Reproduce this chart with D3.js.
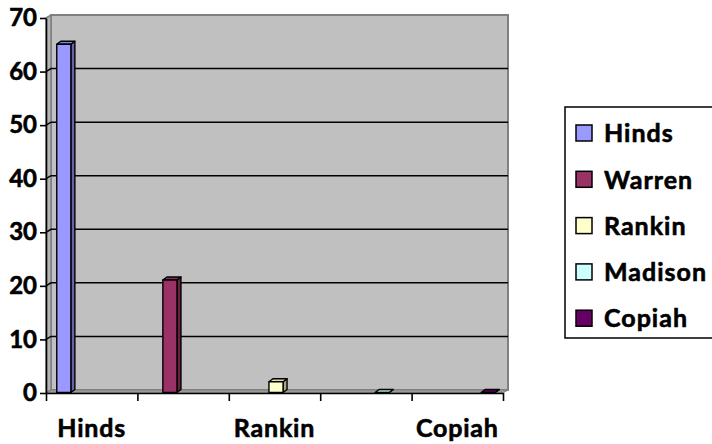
<!DOCTYPE html>
<html>
<head>
<meta charset="utf-8">
<script src="https://cdn.jsdelivr.net/npm/d3@7"></script>
<style>
  body { margin: 0; background: #fff; }
  text { font-family: Lato, "Open Sans", sans-serif; font-weight: bold; fill: #000;
         stroke: #000; stroke-width: 0.6px; }
</style>
</head>
<body>
<div id="chart"></div>
<script>
const width = 712;
const height = 444;

// each county is its own series and sits in its own category
const categories = ["Hinds", "Warren", "Rankin", "Madison", "Copiah"];
const series = ["Hinds", "Warren", "Rankin", "Madison", "Copiah"];
const values = [65, 21, 2, 0, 0];
const colors = ["#9999ff", "#993366", "#ffffcc", "#ccffff", "#660066"];
const yTicks = [0, 10, 20, 30, 40, 50, 60, 70];
const xLabels = ["Hinds", "Rankin", "Copiah"];

// 3d look: wall depth and bar depth
const dx = 5, dy = -3;
const bdx = 4, bdy = -3;

const plotLeft = 46, plotRight = 503, plotBottom = 393, plotTop = 18;

const y = d3.scaleLinear().domain([0, 70]).range([plotBottom, plotTop]);
const x = d3.scaleBand().domain(categories).range([plotLeft, plotRight]);
const xi = d3.scaleBand().domain(series).range([0, x.bandwidth()])
  .paddingOuter(0.63).paddingInner(0.04);
const xb = d3.scaleLinear().domain([0, categories.length]).range([plotLeft, plotRight]);

const svg = d3.select("#chart").append("svg")
  .attr("width", width).attr("height", height);

// back wall, side wall, floor
svg.append("rect")
  .attr("x", plotLeft + dx).attr("y", plotTop + dy)
  .attr("width", plotRight - plotLeft).attr("height", plotBottom - plotTop)
  .style("fill", "#c0c0c0").style("stroke", "#808080").style("stroke-width", 2);

svg.append("polygon")
  .attr("points", [[plotLeft, plotTop], [plotLeft + dx, plotTop + dy], [plotLeft + dx, plotBottom + dy], [plotLeft, plotBottom]].join(" "))
  .style("fill", "#b4b4b4").style("stroke", "#808080").style("stroke-width", 1.5);

svg.append("polygon")
  .attr("points", [[plotLeft, plotBottom], [plotLeft + dx, plotBottom + dy], [plotRight + dx, plotBottom + dy], [plotRight, plotBottom]].join(" "))
  .style("fill", "#9a9a9a").style("stroke", "#808080").style("stroke-width", 1);

// gridlines on wall
const grid = svg.append("g");
yTicks.filter(d => d > 0 && d < 70).forEach(v => {
  grid.append("polyline")
    .attr("points", [[plotLeft, y(v)], [plotLeft + dx, y(v) + dy], [plotRight + dx, y(v) + dy]].join(" "))
    .style("fill", "none").style("stroke", "#000").style("stroke-width", 1.5);
});

// bars
const bars = svg.append("g");
values.forEach((v, i) => {
  const c = d3.color(colors[i]);
  const fx = x(categories[i]) + xi(series[i]) + 1.5;
  const w = xi.bandwidth();
  const fb = y(0) - 0.5;
  const ft = y(v) - 0.5;
  const g = bars.append("g").style("stroke", "#000").style("stroke-width", 1.4)
    .style("stroke-linejoin", "round");
  g.append("polygon")
    .attr("points", [[fx + w, ft], [fx + w + bdx, ft + bdy], [fx + w + bdx, fb + bdy], [fx + w, fb]].join(" "))
    .style("fill", c.darker(1.2));
  g.append("polygon")
    .attr("points", [[fx, ft], [fx + bdx, ft + bdy], [fx + w + bdx, ft + bdy], [fx + w, ft]].join(" "))
    .style("fill", c.darker(0.4));
  if (v > 0) {
    g.append("rect")
      .attr("x", fx).attr("y", ft).attr("width", w).attr("height", fb - ft)
      .style("fill", c);
  }
});

// axes
const yAxis = svg.append("g")
  .attr("transform", `translate(${plotLeft},0)`)
  .call(d3.axisLeft(y).tickValues(yTicks).tickSize(6).tickSizeOuter(0).tickPadding(3));
yAxis.selectAll("text").style("font-size", "24px");

const xAxis = svg.append("g")
  .attr("transform", `translate(0,${plotBottom})`)
  .call(d3.axisBottom(xb).tickValues(d3.range(categories.length + 1))
    .tickFormat("").tickSize(8).tickSizeOuter(0));

svg.selectAll(".domain, .tick line").style("stroke", "#000").style("stroke-width", 1.6);

svg.append("g").selectAll("text")
  .data(xLabels)
  .enter()
  .append("text")
  .attr("x", d => x(d) + x.bandwidth() / 2)
  .attr("y", 437)
  .attr("text-anchor", "middle")
  .style("font-size", "25px")
  .style("letter-spacing", "0.8px")
  .text(d => d);

// legend
const legend = svg.append("g");
legend.append("rect")
  .attr("x", 565).attr("y", 107).attr("width", 160).attr("height", 231)
  .style("fill", "#fff").style("stroke", "#000").style("stroke-width", 1.5);

const item = legend.selectAll("g.item")
  .data(series)
  .enter()
  .append("g")
  .attr("transform", (d, i) => `translate(576,${133 + i * 46.3})`);

item.append("rect")
  .attr("x", 0).attr("y", -8).attr("width", 16).attr("height", 16)
  .style("fill", (d, i) => colors[i]).style("stroke", "#000").style("stroke-width", 1.5);

item.append("text")
  .attr("x", 28).attr("y", 0).attr("dy", "0.37em")
  .style("font-size", "25px")
  .style("letter-spacing", "1px")
  .text(d => d);
</script>
</body>
</html>
